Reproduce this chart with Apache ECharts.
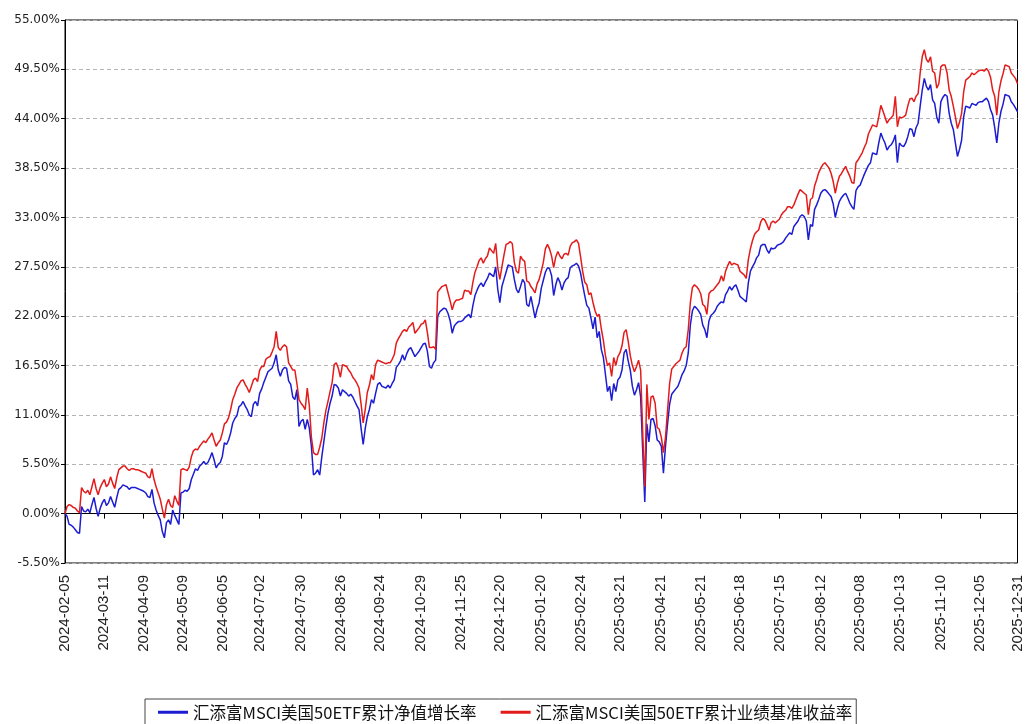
<!DOCTYPE html>
<html>
<head>
<meta charset="utf-8">
<script src="https://cdn.jsdelivr.net/npm/echarts@6/dist/echarts.min.js"></script>
<style>
html,body{margin:0;padding:0;background:#fff;}
#chart{width:1025px;height:724px;}
</style>
</head>
<body>
<div id="chart"></div>
<script>
// Series names
const seriesNames = ['汇添富MSCI美国50ETF累计净值增长率', '汇添富MSCI美国50ETF累计业绩基准收益率'];

// Exchange holidays (weekdays with no NAV) within the period
const holidays = ['2024-02-09','2024-02-12','2024-02-13','2024-02-14','2024-02-15','2024-02-16',
  '2024-04-04','2024-04-05','2024-05-01','2024-05-02','2024-05-03','2024-06-10',
  '2024-09-16','2024-09-17','2024-10-01','2024-10-02','2024-10-03','2024-10-04','2024-10-07',
  '2025-01-01','2025-01-28','2025-01-29','2025-01-30','2025-01-31','2025-02-03','2025-02-04',
  '2025-04-04','2025-05-01','2025-05-02','2025-05-05','2025-06-02',
  '2025-10-01','2025-10-02','2025-10-03','2025-10-06','2025-10-07','2025-10-08'];
const startDate = '2024-02-05';
const endDate = '2025-12-31';

// Tick labels shown on the x axis
const tickLabels = ['2024-02-05','2024-03-11','2024-04-09','2024-05-09','2024-06-05','2024-07-02',
  '2024-07-30','2024-08-26','2024-09-24','2024-10-29','2024-11-25','2024-12-20','2025-01-20',
  '2025-02-24','2025-03-21','2025-04-21','2025-05-21','2025-06-18','2025-07-15','2025-08-12',
  '2025-09-08','2025-10-13','2025-11-10','2025-12-05','2025-12-31'];

// Y axis range (%)
const yMin = -5.5, yMax = 55, yStep = 5.5;

// 累计净值增长率 (%)
const navGrowth = [
  0, -0.3, -1.2, -1.3, -1.5, -1.8, -2.1, -2.2, 0.8, 0.3, 0.2, 0.5, 0.1, 1.0, 1.8, 0.6, -0.3, 0.6, 1.2, 1.6,
  0.9, 1.2, 1.9, 1.3, 0.7, 1.8, 2.7, 2.9, 3.2, 3.1, 3.0, 2.7, 2.9, 2.9, 2.9, 2.8, 2.7, 2.6, 2.5,
  2.3, 1.9, 1.8, 2.7, 1.2, 0.4, -0.2, -0.7, -2.0, -2.7, -1.0, -0.7, -1.2, 0.4, -0.2, -0.7, -1.2, 2.3, 2.4,
  2.6, 2.5, 2.8, 3.8, 4.4, 5.0, 4.8, 5.3, 5.5, 5.8, 5.5, 5.7, 6.2, 6.8, 6.0, 5.1, 5.5, 5.7, 6.4,
  7.9, 7.7, 8.2, 9.0, 10.1, 10.6, 10.9, 11.9, 12.1, 12.5, 12.0, 11.6, 11.0, 10.8, 12.2, 12.5, 12.0, 13.4,
  13.9, 14.6, 15.2, 15.8, 16.0, 16.2, 16.8, 17.7, 16.0, 15.3, 16.0, 16.3, 16.2, 14.8, 14.4, 13.0, 12.7, 13.8, 9.7,
  10.3, 10.5, 9.4, 10.5, 9.5, 7.5, 4.3, 4.5, 4.9, 4.3, 6.3, 8.0, 9.7, 11.2, 12.3, 13.1, 14.4, 14.3, 14.0, 13.1,
  13.8, 13.6, 13.4, 13.1, 13.3, 13.0, 12.5, 12.0, 11.6, 9.5, 7.7, 9.5, 10.8, 11.6, 12.7, 12.3, 13.4, 14.4, 14.6,
  14.2, 14.1, 14.0, 14.3, 14.0, 14.5, 14.9, 16.3, 16.6, 17.0, 17.7, 17.1, 17.8, 18.3, 18.5, 18.0, 17.5, 17.8, 18.1, 18.5,
  18.9, 19.0, 18.1, 16.4, 16.2, 16.8, 17.1, 22.0, 22.5, 22.7, 22.9, 22.8, 22.3, 21.5, 20.1, 20.9, 21.2, 21.4, 21.4,
  21.5, 21.8, 22.0, 22.2, 21.8, 23.2, 24.3, 24.9, 25.4, 25.7, 25.3, 25.8, 26.2, 26.8, 26.6, 26.4, 27.5, 25.0, 23.5,
  25.3, 26.1, 26.9, 27.7, 27.6, 27.5, 26.1, 25.0, 24.6, 25.3, 26.1, 25.7, 23.3, 23.1, 24.2, 23.0, 21.8, 22.8, 23.5, 25.1,
  26.0, 26.9, 27.4, 27.3, 26.5, 24.3, 25.5, 26.3, 25.8, 24.9, 25.7, 26.1, 26.3, 27.4, 27.6, 27.7, 27.9, 27.6, 26.8,
  25.5, 24.3, 23.2, 22.9, 21.8, 20.6, 21.9, 19.6, 20.3, 18.3, 17.4, 15.5, 13.6, 14.2, 12.6, 14.5, 13.6, 14.9, 15.2,
  16.0, 17.9, 18.3, 17.0, 16.0, 14.2, 13.2, 13.8, 14.6, 13.0, 7.0, 1.3, 10.0, 8.0, 10.5, 10.6, 9.8, 8.2, 8.0, 7.5,
  4.5, 7.5, 10.0, 12.2, 13.3, 13.6, 13.9, 14.2, 14.8, 15.5, 15.9, 16.5, 17.9, 21.0, 22.6, 23.1, 22.9, 22.6, 22.2,
  21.0, 20.5, 19.6, 21.5, 22.1, 22.3, 22.6, 23.1, 23.4, 23.6, 23.5, 24.4, 24.8, 25.3, 24.9, 25.3, 25.5, 24.9, 24.2,
  24.0, 23.8, 23.6, 25.7, 27.0, 27.5, 27.9, 28.5, 28.8, 29.8, 30.0, 30.0, 29.4, 29.0, 29.6, 29.5, 29.6, 29.9, 30.0,
  30.1, 30.3, 30.7, 31.0, 31.3, 31.1, 32.0, 32.3, 32.6, 33.1, 33.3, 33.1, 32.6, 30.5, 32.2, 32.0, 33.9, 34.4, 35.0, 35.7,
  36.0, 36.1, 35.9, 35.6, 35.3, 34.5, 33.0, 34.0, 34.8, 35.2, 35.5, 35.7, 35.2, 34.6, 34.2, 33.9, 36.0, 36.4, 36.6,
  37.2, 37.8, 38.3, 38.8, 39.1, 40.2, 40.1, 40.0, 41.3, 42.4, 41.8, 41.3, 40.5, 40.9, 41.1, 41.5, 42.2, 39.1, 41.3,
  41.0, 40.9, 41.3, 42.0, 42.9, 42.8, 42.0, 43.0, 43.5, 45.4, 47.2, 48.5, 47.6, 47.2, 47.8, 46.1, 45.7, 44.2, 43.5, 45.9,
  46.4, 46.7, 46.5, 44.6, 43.5, 42.8, 41.3, 39.8, 40.6, 41.6, 44.2, 45.4, 45.3, 45.2, 45.7, 45.6, 45.5, 45.8, 45.9,
  45.9, 46.1, 46.3, 45.9, 45.0, 44.4, 43.0, 41.3, 43.5, 44.8, 45.6, 46.7, 46.6, 46.5, 45.9, 45.6, 45.2, 44.8
];

// 累计业绩基准收益率 (%)
const benchReturn = [
  0, 0.8, 1.0, 0.9, 0.7, 0.6, 0.3, 0.1, 2.9, 2.5, 2.3, 2.6, 2.1, 3.0, 3.9, 2.8, 2.1, 2.9, 3.4, 3.8,
  3.0, 3.3, 4.1, 3.4, 2.8, 4.0, 4.9, 5.1, 5.3, 5.3, 5.0, 4.8, 5.0, 5.0, 4.9, 4.9, 4.8, 4.7, 4.6,
  4.5, 4.1, 4.0, 5.0, 3.8, 3.0, 2.3, 1.6, 0.5, -0.5, 1.0, 1.6, 0.9, 0.7, 2.0, 1.4, 0.9, 4.9, 5.0,
  4.9, 4.8, 5.2, 6.3, 7.0, 7.2, 7.1, 7.5, 7.8, 8.1, 7.9, 8.3, 8.6, 9.0, 8.2, 7.5, 7.9, 8.2, 9.0,
  10.0, 10.2, 10.7, 11.6, 12.7, 13.3, 14.0, 14.4, 14.8, 14.9, 14.4, 14.0, 13.5, 14.2, 14.9, 15.1, 14.7, 16.0,
  16.4, 16.4, 17.2, 17.4, 17.5, 18.0, 18.6, 20.3, 18.5, 18.2, 18.6, 18.8, 18.6, 16.8, 16.4, 16.0, 16.0, 14.5, 12.7,
  12.3, 12.0, 11.6, 14.0, 12.0, 8.5, 6.8, 6.6, 6.6, 7.4, 8.4, 10.1, 11.5, 12.5, 13.6, 14.6, 16.6, 16.8, 16.2, 15.2,
  16.6, 16.5, 16.4, 16.0, 15.7, 15.2, 14.9, 14.5, 14.0, 12.2, 10.1, 11.6, 13.5, 14.3, 15.5, 14.9, 16.6, 17.1, 17.0,
  16.9, 16.8, 16.7, 16.8, 16.8, 17.2, 17.7, 19.0, 19.5, 19.9, 20.3, 20.5, 20.3, 20.8, 21.0, 21.3, 20.1, 20.4, 20.7, 21.1,
  21.2, 21.6, 20.2, 18.5, 18.5, 18.6, 18.3, 24.7, 25.0, 25.3, 25.4, 25.5, 24.6, 23.7, 22.7, 23.5, 23.8, 23.8, 23.9,
  24.0, 24.9, 24.8, 24.8, 24.4, 25.8, 26.9, 27.5, 28.2, 28.5, 27.9, 28.4, 28.7, 29.6, 29.3, 29.0, 30.1, 27.4, 26.1,
  27.5, 28.8, 30.0, 30.1, 30.3, 30.1, 28.0, 27.0, 26.8, 28.7, 28.3, 28.1, 25.9, 25.8, 25.3, 25.0, 24.6, 25.6, 26.1, 27.0,
  28.0, 29.5, 30.0, 29.5, 28.7, 27.4, 28.6, 29.2, 28.7, 28.4, 28.9, 29.0, 28.8, 29.8, 30.2, 30.3, 30.5, 30.1, 28.6,
  27.0, 25.8, 25.5, 24.4, 24.6, 23.5, 22.6, 22.0, 22.2, 20.6, 19.3, 17.6, 16.5, 16.8, 15.3, 17.4, 16.5, 17.5, 17.9,
  18.7, 20.2, 20.5, 19.2, 17.6, 16.5, 15.8, 16.4, 17.1, 16.0, 9.0, 3.0, 14.4, 10.5, 13.0, 13.1, 12.3, 9.6, 9.4, 8.5,
  6.8, 8.5, 11.5, 14.5, 16.1, 16.4, 16.7, 16.9, 17.1, 17.9, 18.4, 18.6, 20.5, 23.5, 25.2, 25.5, 25.3, 25.0, 24.5,
  23.3, 23.1, 22.2, 24.5, 24.8, 24.9, 25.2, 25.5, 25.8, 26.5, 25.9, 27.0, 27.6, 28.1, 27.7, 27.9, 27.8, 27.7, 27.0,
  26.8, 26.6, 26.2, 28.3, 29.5, 30.4, 31.1, 31.4, 31.6, 32.5, 32.9, 32.7, 32.2, 31.6, 32.4, 32.6, 32.4, 32.6, 32.8,
  33.3, 33.6, 33.8, 34.2, 34.2, 34.0, 34.4, 35.0, 35.6, 36.1, 35.9, 35.7, 35.5, 33.3, 35.0, 35.2, 36.5, 37.2, 38.0, 38.5,
  38.9, 39.1, 38.8, 38.5, 37.9, 37.0, 35.7, 36.8, 37.6, 37.9, 38.3, 38.7, 38.1, 37.6, 36.9, 36.8, 39.1, 39.4, 39.8,
  40.2, 40.8, 41.3, 42.3, 42.8, 43.3, 43.2, 43.1, 44.2, 45.5, 44.9, 44.2, 43.5, 43.9, 44.1, 44.4, 46.5, 43.1, 44.2,
  44.1, 44.2, 44.4, 45.4, 46.2, 46.3, 45.9, 46.5, 46.8, 49.1, 50.9, 51.7, 50.6, 50.3, 50.9, 49.3, 49.1, 47.4, 47.9, 49.8,
  50.0, 50.0, 49.1, 47.2, 46.5, 45.4, 44.2, 42.9, 43.6, 44.6, 47.0, 48.3, 48.5, 48.7, 49.1, 48.9, 49.1, 49.3, 49.4,
  49.4, 49.3, 49.6, 49.3, 48.6, 47.2, 46.5, 44.4, 47.0, 48.2, 49.0, 50.0, 49.9, 49.8, 49.1, 48.8, 48.5, 47.9
];

// Build trading-day categories
function buildDates(){
  const hol = new Set(holidays);
  const out = [];
  const d = new Date(startDate + 'T00:00:00Z');
  const end = new Date(endDate + 'T00:00:00Z');
  while (d <= end) {
    const wd = d.getUTCDay();
    const s = d.toISOString().slice(0, 10);
    if (wd !== 0 && wd !== 6 && !hol.has(s)) out.push(s);
    d.setUTCDate(d.getUTCDate() + 1);
  }
  return out;
}
const dates = buildDates();
const tickSet = new Set(tickLabels);
const showTick = (idx, val) => tickSet.has(val);

const chart = echarts.init(document.getElementById('chart'), null, {renderer: 'canvas'});
chart.setOption({
  animation: false,
  backgroundColor: '#ffffff',
  grid: {left: 65, right: 5, top: 20, bottom: 161, show: true, borderColor: '#000', borderWidth: 1, containLabel: false},
  legend: {
    left: 145, top: 699,
    data: seriesNames,
    icon: 'rect', itemWidth: 30, itemHeight: 3, itemGap: 24,
    padding: [5, 4, 6, 13],
    borderColor: '#444', borderWidth: 1,
    textStyle: {fontFamily: 'Noto Sans CJK SC', fontSize: 16.5, color: '#111'}
  },
  xAxis: {
    type: 'category', data: dates, boundaryGap: false,
    axisLine: {lineStyle: {color: '#000', width: 1}},
    axisTick: {show: true, interval: showTick, length: 5, lineStyle: {color: '#000'}},
    axisLabel: {interval: showTick, rotate: 90, margin: 12, fontFamily: 'Liberation Sans', fontSize: 15, color: '#222'},
    splitLine: {show: false}
  },
  yAxis: {
    type: 'value', min: yMin, max: yMax, interval: yStep,
    axisLine: {show: true, lineStyle: {color: '#000', width: 1}},
    axisTick: {show: true, length: 4, lineStyle: {color: '#000'}},
    axisLabel: {margin: 5, fontFamily: 'DejaVu Sans', fontSize: 12, color: '#222',
      formatter: v => v.toFixed(2) + '%'},
    splitLine: {show: true, lineStyle: {color: '#b4b4b4', type: [4, 3], width: 1}}
  },
  series: [
    {name: seriesNames[0], type: 'line', data: navGrowth, showSymbol: false, symbol: 'none',
      lineStyle: {color: '#1c1cd2', width: 1.5}, itemStyle: {color: '#1c1cd2'}},
    {name: seriesNames[1], type: 'line', data: benchReturn, showSymbol: false, symbol: 'none',
      lineStyle: {color: '#e41b1b', width: 1.5}, itemStyle: {color: '#e41b1b'}}
  ]
});
</script>
</body>
</html>
